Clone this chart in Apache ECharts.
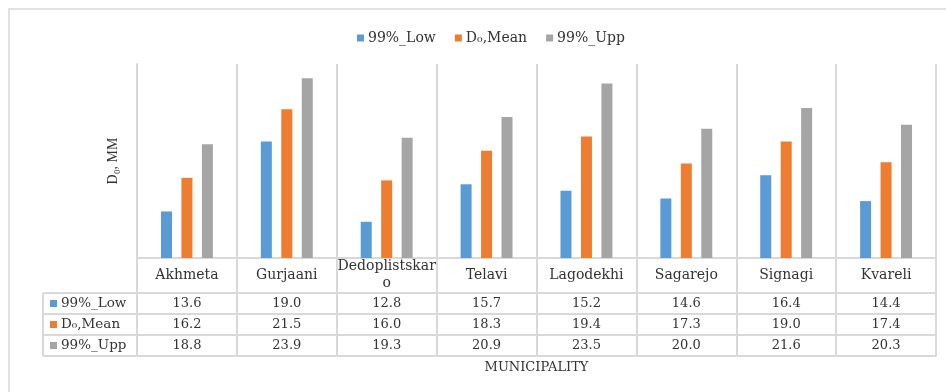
<!DOCTYPE html>
<html>
<head>
<meta charset="utf-8">
<script src="https://cdn.jsdelivr.net/npm/echarts@6/dist/echarts.min.js"></script>
<style>html,body{margin:0;padding:0;background:#fff}#c{width:946px;height:392px}</style>
</head>
<body>
<div id="c"></div>
<script>
var categories = ['Akhmeta', 'Gurjaani', 'Dedoplistskaro', 'Telavi', 'Lagodekhi', 'Sagarejo', 'Signagi', 'Kvareli'];
var seriesNames = ['99%_Low', 'D\u2080,Mean', '99%_Upp'];
var low99 = [13.6, 19.0, 12.8, 15.7, 15.2, 14.6, 16.4, 14.4];
var meanD0 = [16.2, 21.5, 16.0, 18.3, 19.4, 17.3, 19.0, 17.4];
var upp99 = [18.8, 23.9, 19.3, 20.9, 23.5, 20.0, 21.6, 20.3];
var yTitle = 'D\u2080, MM';
var xTitle = 'MUNICIPALITY';

var colors = ['#5b9bd5', '#ed7d31', '#a5a5a5'];
var rows = [low99, meanD0, upp99];
var FONT = 'DejaVu Serif';
var FONT_Y = 'Liberation Serif';
var LINE = '#d9d9d9';
var TXT = '#333333';

var G = {left: 137, right: 936, top: 64, bottom: 258};
var headerH = 35, rowH = 21, labelColLeft = 43;

var chart = echarts.init(document.getElementById('c'));

function rowAxis(i) {
  var data = rows[i];
  return {
    type: 'category', gridIndex: 0, position: 'bottom', data: categories,
    offset: headerH + rowH * i,
    axisLine: {show: true, lineStyle: {color: LINE, width: 2}},
    axisTick: {show: false},
    axisLabel: {show: true, margin: 10.5, verticalAlign: 'middle', fontFamily: FONT, fontSize: 13, color: TXT,
      formatter: function (v, idx) { return data[idx].toFixed(1); }},
    splitLine: {show: false}
  };
}

var graphics = [
  {type: 'rect', shape: {x: 9, y: 9, width: 960, height: 420}, style: {fill: null, stroke: LINE, lineWidth: 1.5}, silent: true},
  {type: 'line', shape: {x1: labelColLeft, y1: G.bottom + headerH, x2: labelColLeft, y2: G.bottom + headerH + rowH * 3}, style: {stroke: LINE, lineWidth: 2}}
];
for (var r = 0; r <= 3; r++) {
  var yy = G.bottom + headerH + rowH * r;
  graphics.push({type: 'line', shape: {x1: labelColLeft, y1: yy, x2: G.left, y2: yy}, style: {stroke: LINE, lineWidth: 2}});
}
for (var r2 = 0; r2 < 3; r2++) {
  var yc = G.bottom + headerH + rowH * r2 + rowH / 2;
  graphics.push({type: 'rect', shape: {x: 50, y: yc - 3.5, width: 7, height: 7}, style: {fill: colors[r2]}});
  graphics.push({type: 'text', x: 61, y: yc, style: {text: seriesNames[r2], fontFamily: FONT, fontSize: 13.5, fill: TXT, verticalAlign: 'middle', align: 'left'}});
}

var option = {
  animation: false,
  backgroundColor: '#fff',
  color: colors,
  textStyle: {fontFamily: FONT},
  legend: {
    data: seriesNames, top: 26, left: 352,
    itemWidth: 7, itemHeight: 7, itemGap: 19, icon: 'rect',
    textStyle: {fontFamily: FONT, fontSize: 14, color: TXT, padding: [0, 0, 0, -1]}
  },
  grid: {left: G.left, right: 946 - G.right, top: G.top, bottom: 392 - G.bottom, containLabel: false},
  xAxis: [
    {
      type: 'category', data: categories, position: 'bottom',
      axisLine: {show: true, lineStyle: {color: LINE, width: 2}},
      axisTick: {show: true, alignWithLabel: false, length: headerH + rowH * 3, lineStyle: {color: LINE, width: 2}},
      axisLabel: {show: true, interval: 0, margin: 17, verticalAlign: 'middle', lineHeight: 17,
        fontFamily: FONT, fontSize: 14, color: TXT, width: 100, overflow: 'breakAll'},
      splitLine: {show: true, interval: 0, lineStyle: {color: LINE, width: 2}}
    },
    rowAxis(0), rowAxis(1), rowAxis(2),
    {
      type: 'category', gridIndex: 0, position: 'bottom', data: categories,
      offset: headerH + rowH * 3,
      axisLine: {show: true, lineStyle: {color: LINE, width: 2}},
      axisTick: {show: false}, axisLabel: {show: false},
      name: xTitle, nameLocation: 'middle', nameGap: 12,
      nameTextStyle: {fontFamily: FONT, fontSize: 13, color: TXT, verticalAlign: 'middle'}
    }
  ],
  yAxis: {
    type: 'value', min: 10, max: 25, interval: 5,
    axisLine: {show: true, lineStyle: {color: LINE, width: 2}},
    axisTick: {show: false}, axisLabel: {show: false}, splitLine: {show: false},
    name: yTitle, nameLocation: 'middle', nameGap: 17, nameRotate: 90,
    nameTextStyle: {fontFamily: FONT_Y, fontSize: 14, color: TXT}
  },
  series: seriesNames.map(function (n, i) {
    return {name: n, type: 'bar', data: rows[i], barWidth: 11, barGap: '86%', xAxisIndex: 0, yAxisIndex: 0};
  }),
  graphic: graphics
};
chart.setOption(option);
</script>
</body>
</html>
